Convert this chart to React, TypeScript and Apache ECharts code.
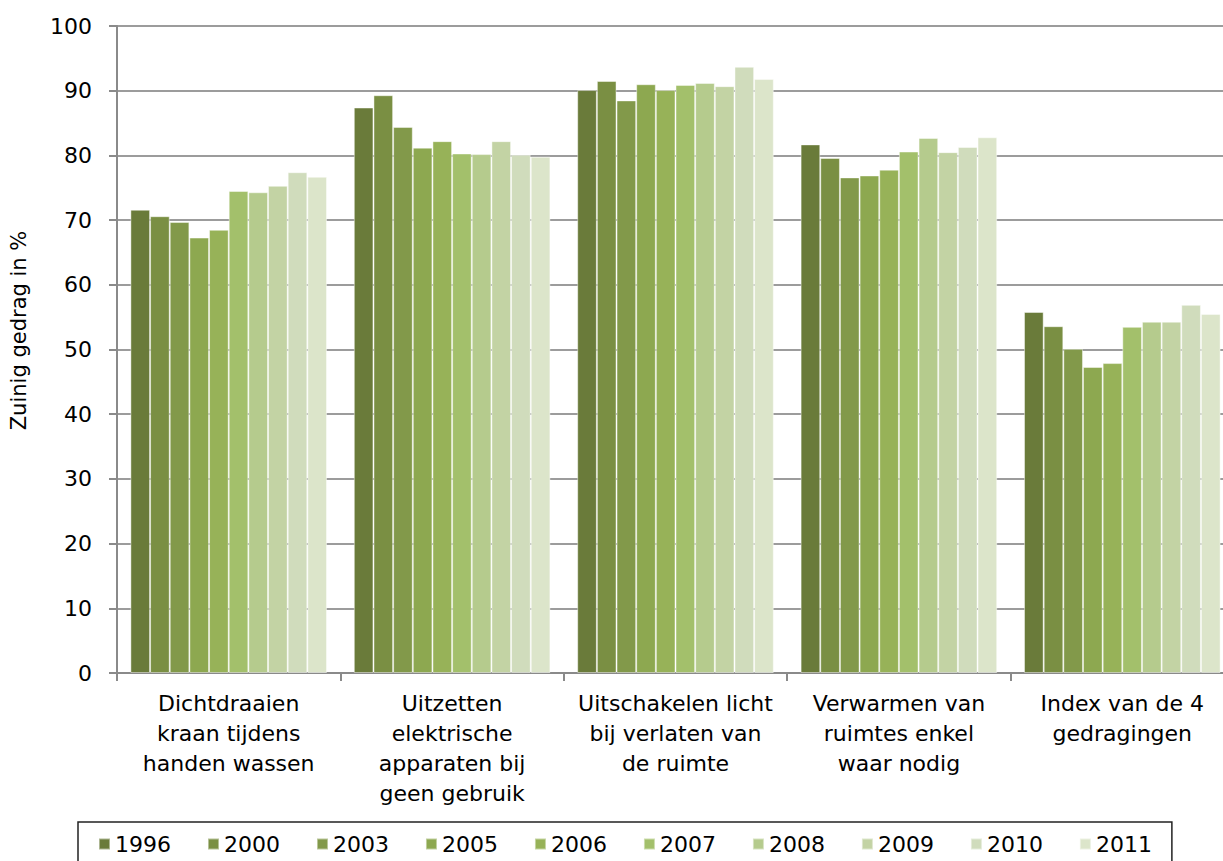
import React, { useEffect, useRef } from "react";
import * as echarts from "echarts";

const categories = [
  "Dichtdraaien\nkraan tijdens\nhanden wassen",
  "Uitzetten\nelektrische\napparaten bij\ngeen gebruik",
  "Uitschakelen licht\nbij verlaten van\nde ruimte",
  "Verwarmen van\nruimtes enkel\nwaar nodig",
  "Index van de 4\ngedragingen",
];

const years = ["1996", "2000", "2003", "2005", "2006", "2007", "2008", "2009", "2010", "2011"];

const v1996 = [71.6, 87.4, 90.1, 81.7, 55.8];
const v2000 = [70.6, 89.3, 91.5, 79.6, 53.6];
const v2003 = [69.7, 84.4, 88.5, 76.6, 50.1];
const v2005 = [67.3, 81.2, 91.0, 76.9, 47.3];
const v2006 = [68.5, 82.2, 90.1, 77.8, 47.9];
const v2007 = [74.5, 80.3, 90.9, 80.6, 53.5];
const v2008 = [74.3, 80.2, 91.2, 82.7, 54.3];
const v2009 = [75.3, 82.2, 90.7, 80.5, 54.3];
const v2010 = [77.4, 80.1, 93.7, 81.3, 56.9];
const v2011 = [76.7, 79.8, 91.8, 82.8, 55.5];

const seriesValues = [v1996, v2000, v2003, v2005, v2006, v2007, v2008, v2009, v2010, v2011];

const colors = [
  "#6A7B3A", "#7A8F43", "#82994A", "#8DA850", "#97B258",
  "#A3C06B", "#B5CB8D", "#C3D3A4", "#D0DCBC", "#DCE5CA",
];

const yTicks = { min: 0, max: 100, interval: 10 };

const FONT = "DejaVu Sans";

export default function App() {
  const ref = useRef<HTMLDivElement>(null);
  useEffect(() => {
    if (!ref.current) return;
    const chart = echarts.init(ref.current, undefined, { renderer: "svg" });
    chart.setOption({
      animation: false,
      backgroundColor: "#ffffff",
      color: colors,
      textStyle: { fontFamily: FONT },
      grid: { left: 112, right: 6, top: 26, bottom: 188, containLabel: false },
      legend: {
        left: 78,
        top: 822,
        padding: [11, 20, 20, 20],
        borderColor: "#222",
        borderWidth: 1.5,
        icon: "rect",
        itemWidth: 11,
        itemHeight: 11,
        itemGap: 36,
        textStyle: { fontFamily: FONT, fontSize: 22, color: "#000" },
        data: years,
      },
      xAxis: {
        type: "category",
        data: categories,
        axisLine: { lineStyle: { color: "#8a8a8a", width: 2 } },
        axisTick: { show: true, length: 8, lineStyle: { color: "#8a8a8a", width: 2 } },
        axisLabel: {
          interval: 0,
          margin: 15,
          color: "#000",
          fontFamily: FONT,
          fontSize: 22,
          lineHeight: 30,
        },
      },
      yAxis: {
        type: "value",
        min: yTicks.min,
        max: yTicks.max,
        interval: yTicks.interval,
        name: "Zuinig gedrag in %",
        nameLocation: "middle",
        nameGap: 88,
        nameRotate: 90,
        nameTextStyle: { fontFamily: FONT, fontSize: 21, color: "#000", padding: [0, 0, 0, 38] },
        axisLine: { show: true, lineStyle: { color: "#8a8a8a", width: 2 } },
        axisTick: { show: true, length: 8, lineStyle: { color: "#8a8a8a", width: 2 } },
        axisLabel: { margin: 25, color: "#000", fontFamily: FONT, fontSize: 22 },
        splitLine: { show: true, lineStyle: { color: "#9c9c9c", width: 2 } },
      },
      series: years.map((y, i) => ({
        name: y,
        type: "bar",
        data: seriesValues[i],
        barGap: "0%",
        barCategoryGap: "12%",
        itemStyle: { color: colors[i], borderColor: "rgba(255,255,255,0.45)", borderWidth: 1 },
      })),
    });
    return () => chart.dispose();
  }, []);
  return (
    <div style={{ position: "fixed", left: 0, top: 0, width: 1223, height: 861, overflow: "hidden" }}>
      <div ref={ref} style={{ width: 1240, height: 861 }} />
    </div>
  );
}
